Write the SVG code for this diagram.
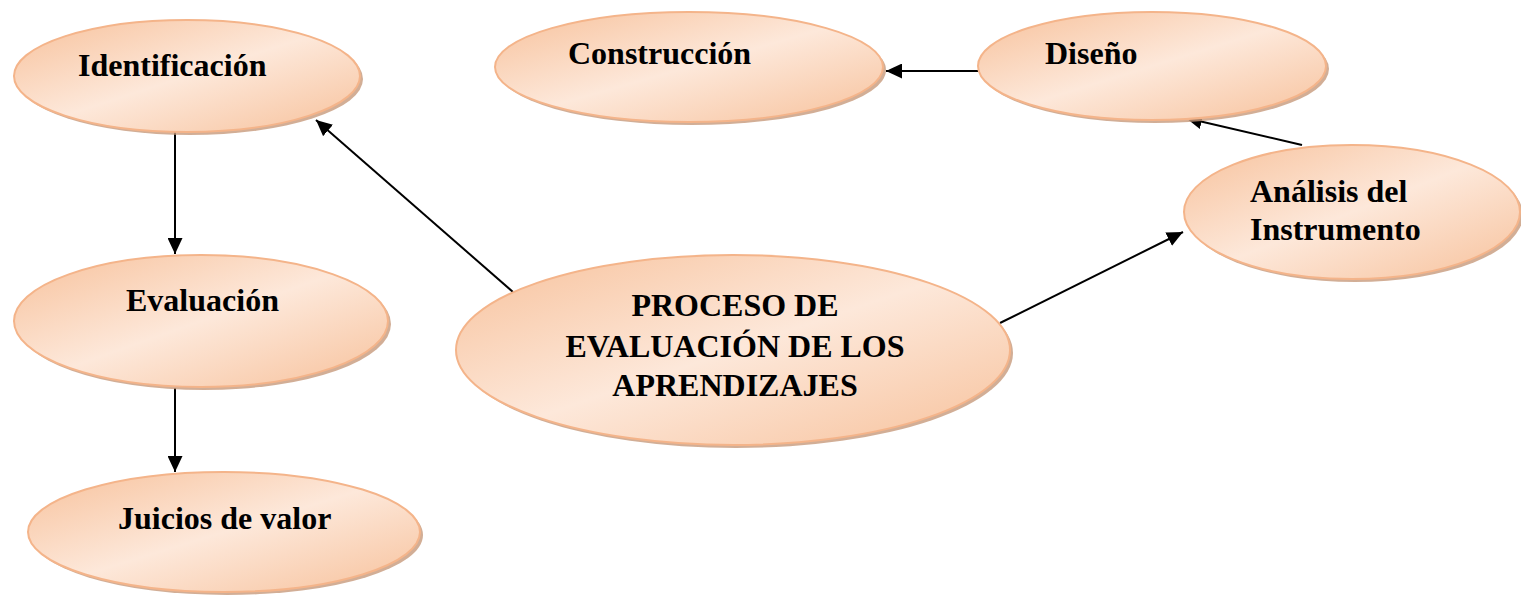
<svg xmlns="http://www.w3.org/2000/svg" width="1521" height="595" viewBox="0 0 1521 595">
<defs>
<linearGradient id="peach" x1="0" y1="0" x2="1" y2="1">
<stop offset="0" stop-color="#f7c19b"/>
<stop offset="0.5" stop-color="#fde8da"/>
<stop offset="1" stop-color="#f7c19b"/>
</linearGradient>
<marker id="arr" viewBox="0 0 16 15" refX="16" refY="7.5" markerWidth="16" markerHeight="15" markerUnits="userSpaceOnUse" orient="auto">
<path d="M0,0 L16,7.5 L0,15 z" fill="#000"/>
</marker>
</defs>
<style>
.sh{fill:#c79a7c;opacity:0.8}
.el{fill:url(#peach);stroke:#f4b48a;stroke-width:2}
.t{font-family:"Liberation Serif","Times New Roman",serif;font-weight:bold;font-size:32px;fill:#000}
.c{stroke:#000;stroke-width:2;fill:none;marker-end:url(#arr)}
</style>
<rect width="1521" height="595" fill="#fff"/>
<g id="connectors">
<line class="c" x1="175" y1="132" x2="175" y2="254"/>
<line class="c" x1="175" y1="388" x2="175" y2="472"/>
<line class="c" x1="513" y1="292" x2="316" y2="120"/>
<line class="c" x1="1000" y1="323" x2="1183" y2="232"/>
<line class="c" x1="978" y1="71" x2="886" y2="71"/>
<line class="c" x1="1302" y1="145" x2="1186" y2="118"/>
</g>
<g id="identificacion">
<ellipse class="sh" cx="190" cy="79" rx="173" ry="56"/>
<ellipse class="el" cx="187" cy="76" rx="173" ry="56"/>
<text class="t" x="78" y="76">Identificación</text>
</g>
<g id="construccion">
<ellipse class="sh" cx="692" cy="70" rx="194" ry="55"/>
<ellipse class="el" cx="689" cy="67" rx="194" ry="55"/>
<text class="t" x="568" y="64">Construcción</text>
</g>
<g id="diseno">
<ellipse class="sh" cx="1155" cy="69" rx="174" ry="54"/>
<ellipse class="el" cx="1152" cy="66" rx="174" ry="54"/>
<text class="t" x="1045" y="64">Diseño</text>
</g>
<g id="analisis">
<ellipse class="sh" cx="1355" cy="215" rx="168" ry="67"/>
<ellipse class="el" cx="1352" cy="212" rx="168" ry="67"/>
<text class="t" x="1250" y="202">Análisis del</text>
<text class="t" x="1250" y="240">Instrumento</text>
</g>
<g id="evaluacion">
<ellipse class="sh" cx="204" cy="324" rx="187" ry="66"/>
<ellipse class="el" cx="201" cy="321" rx="187" ry="66"/>
<text class="t" x="126" y="311">Evaluación</text>
</g>
<g id="juicios">
<ellipse class="sh" cx="227" cy="535" rx="196" ry="60"/>
<ellipse class="el" cx="224" cy="532" rx="196" ry="60"/>
<text class="t" x="118" y="529">Juicios de valor</text>
</g>
<g id="proceso">
<ellipse class="sh" cx="736" cy="353" rx="277" ry="95"/>
<ellipse class="el" cx="733" cy="350" rx="277" ry="95"/>
<text class="t" x="735" y="316" text-anchor="middle">PROCESO DE</text>
<text class="t" x="735" y="357" text-anchor="middle">EVALUACIÓN DE LOS</text>
<text class="t" x="735" y="396" text-anchor="middle">APRENDIZAJES</text>
</g>
</svg>
